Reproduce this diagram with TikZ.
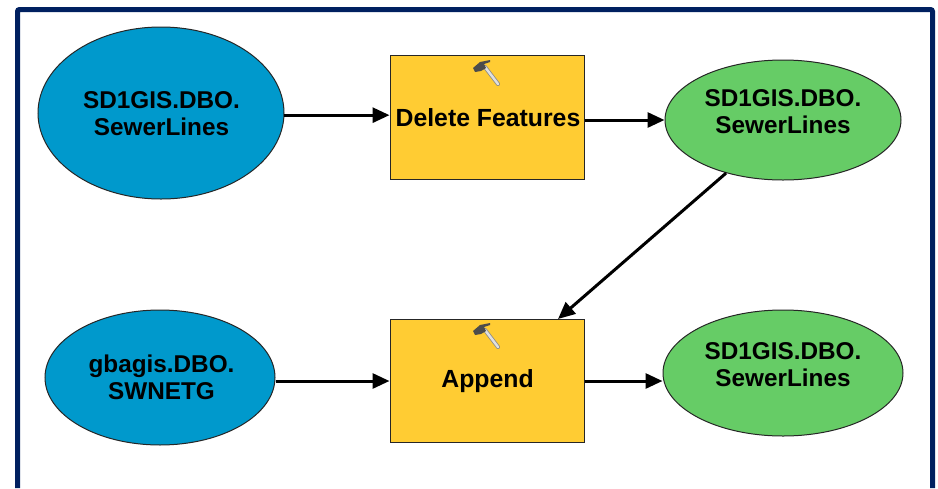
\documentclass[tikz,border=0pt]{standalone}
\usepackage{fontspec}
\setmainfont{Liberation Sans}
\usetikzlibrary{shapes.geometric,arrows.meta}
\definecolor{frameblue}{HTML}{002060}
\definecolor{inblue}{HTML}{0099CC}
\definecolor{outgreen}{HTML}{66CC66}
\definecolor{toolyellow}{HTML}{FFCC33}
\tikzset{
  shapeline/.style={draw=black!85,line width=1pt,inner sep=0pt},
  inoval/.style={shapeline,ellipse,fill=inblue},
  outoval/.style={shapeline,ellipse,fill=outgreen},
  toolbox/.style={shapeline,rectangle,fill=toolyellow,minimum width=194pt,minimum height=123.5pt},
  ovaltext/.style={align=center,inner sep=0pt,font=\fontsize{24.3}{27}\selectfont\bfseries},
  boxtext/.style={align=center,inner sep=0pt,font=\fontsize{24.8}{28}\selectfont\bfseries},
  flow/.style={draw=black,line width=3pt,-{Triangle[length=17pt,width=15pt]}},
  hammer/.pic={
    \draw[line width=4pt,draw=black!45,line cap=round] (-2,-5) -- (11,12);
    \draw[line width=2.4pt,draw=black!12,line cap=round] (-2,-5) -- (11,12);
    \fill[black!70] (-14,-4) -- (-7,-10) -- (3,-12) -- (3,-10) -- (-3,-8) -- (-1,-4) -- (-6,-1) -- (-12,0) -- cycle;
  }
}
\begin{document}
\begin{tikzpicture}[x=1pt,y=-1pt]
\useasboundingbox (0,0) rectangle (938,488);
\fill[white] (0,0) rectangle (938,488);
\draw[frameblue,line width=5pt,rounded corners=2pt] (17.5,488) -- (17.5,9.5) -- (932.5,9.5) -- (932.5,488);

\node[inoval,minimum width=246pt,minimum height=172pt] (e1) at (161,113) {};
\node[inoval,minimum width=230pt,minimum height=135pt] (e2) at (160,377.5) {};
\node[toolbox] (b1) at (487,117.5) {};
\node[toolbox] (b2) at (487,381) {};
\node[outoval,minimum width=236pt,minimum height=120pt] (g1) at (783,120) {};
\node[outoval,minimum width=240pt,minimum height=126pt] (g2) at (783,373) {};

\node[ovaltext] (t1) at (161.5,113.5) {SD1GIS.DBO.\\SewerLines};
\node[ovaltext] (t2) at (161.5,377.5) {gbagis.DBO.\\SWNETG};
\node[boxtext] (t3) at (488,118) {Delete Features};
\node[boxtext] (t4) at (487.5,381) {Append};
\node[ovaltext] (t5) at (783,112) {SD1GIS.DBO.\\SewerLines};
\node[ovaltext] (t6) at (783,365) {SD1GIS.DBO.\\SewerLines};

\pic at (487,72) {hammer};
\pic at (487,335) {hammer};

\coordinate (b2in) at (558,319);
\draw[flow] (e1.359) -- (e1.359 -| b1.west);
\draw[flow] (g1.west -| b1.east) -- (g1.west);
\draw[flow] (e2.east |- b2.west) -- (b2.west);
\draw[flow] (b2.east) -- (b2.east -| g2.west);
\draw[flow] (g1.223) -- (b2in);
\end{tikzpicture}
\end{document}
